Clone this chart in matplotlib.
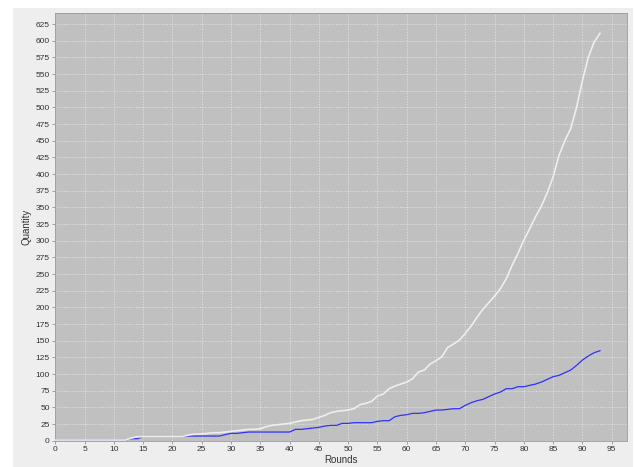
import numpy as np
import matplotlib
matplotlib.use("Agg")
import matplotlib.pyplot as plt
from matplotlib.patches import Rectangle

plt.rcParams['font.family'] = ['Liberation Sans', 'DejaVu Sans']

# rounds 0..93
rounds = list(range(0, 94))

total_qty = [1, 1, 1, 1, 1, 1, 1, 1, 1, 1,
             1, 1, 1, 4, 6, 6, 6, 6, 6, 6,
             6, 6, 7, 9, 10, 10, 11, 12, 12, 13,
             14, 15, 16, 17, 17, 18, 21, 23, 24, 25,
             26, 28, 30, 31, 32, 35, 38, 42, 44, 45,
             46, 48, 54, 56, 59, 67, 70, 78, 82, 85,
             88, 93, 103, 106, 115, 120, 126, 140, 145, 151,
             161, 172, 185, 197, 207, 217, 228, 243, 263, 281,
             301, 318, 336, 352, 372, 396, 428, 450, 468, 500,
             540, 575, 598, 611]

blue_qty = [1, 1, 1, 1, 1, 1, 1, 1, 1, 1,
            1, 1, 1, 3, 3, 6, 6, 6, 6, 6,
            6, 6, 7, 7, 7, 7, 7, 7, 7, 9,
            11, 11, 12, 13, 13, 13, 13, 13, 13, 13,
            13, 17, 17, 18, 19, 20, 22, 23, 23, 26,
            26, 27, 27, 27, 27, 29, 30, 30, 36, 38,
            39, 41, 41, 42, 44, 46, 46, 47, 48, 48,
            53, 57, 60, 62, 66, 70, 73, 78, 78, 81,
            81, 83, 85, 88, 92, 96, 98, 102, 106, 113,
            121, 127, 132, 135]

x_ticks = list(range(0, 100, 5))
y_ticks = list(range(0, 650, 25))

fig = plt.figure(figsize=(6.35, 4.67), dpi=100, facecolor="white")
fig.patches.append(Rectangle((13 / 635, 0), 620 / 635, 459 / 467,
                             transform=fig.transFigure, facecolor="#EEEEEE",
                             edgecolor="none", zorder=-10))

ax = fig.add_axes([55.3 / 635, 26.3 / 467, 571.4 / 635, 428 / 467])
ax.set_facecolor("#C0C0C0")

ax.plot(rounds, blue_qty, color="#3030FF", linewidth=0.9, zorder=3)
ax.plot(rounds, total_qty, color="#EEEEEE", linewidth=1.2, zorder=4)

ax.set_xlim(0, 97.56)
ax.set_ylim(0, 642)
ax.set_xticks(x_ticks)
ax.set_yticks(y_ticks)
ax.tick_params(labelsize=6, length=2, width=0.5, colors="#808080",
               labelcolor="#333333", pad=2)
ax.grid(True, color="#E8E8E8", linestyle=(0, (2, 2)), linewidth=0.5)
ax.set_axisbelow(True)
for s in ax.spines.values():
    s.set_color("#9A9A9A")
    s.set_linewidth(0.6)

ax.set_xlabel("Rounds", fontsize=7, color="#333333", labelpad=1)
ax.set_ylabel("Quantity", fontsize=7, color="#333333")
ax.yaxis.set_label_coords(-0.042, 0.5)

fig.savefig("out.png", dpi=100, facecolor=fig.get_facecolor())
